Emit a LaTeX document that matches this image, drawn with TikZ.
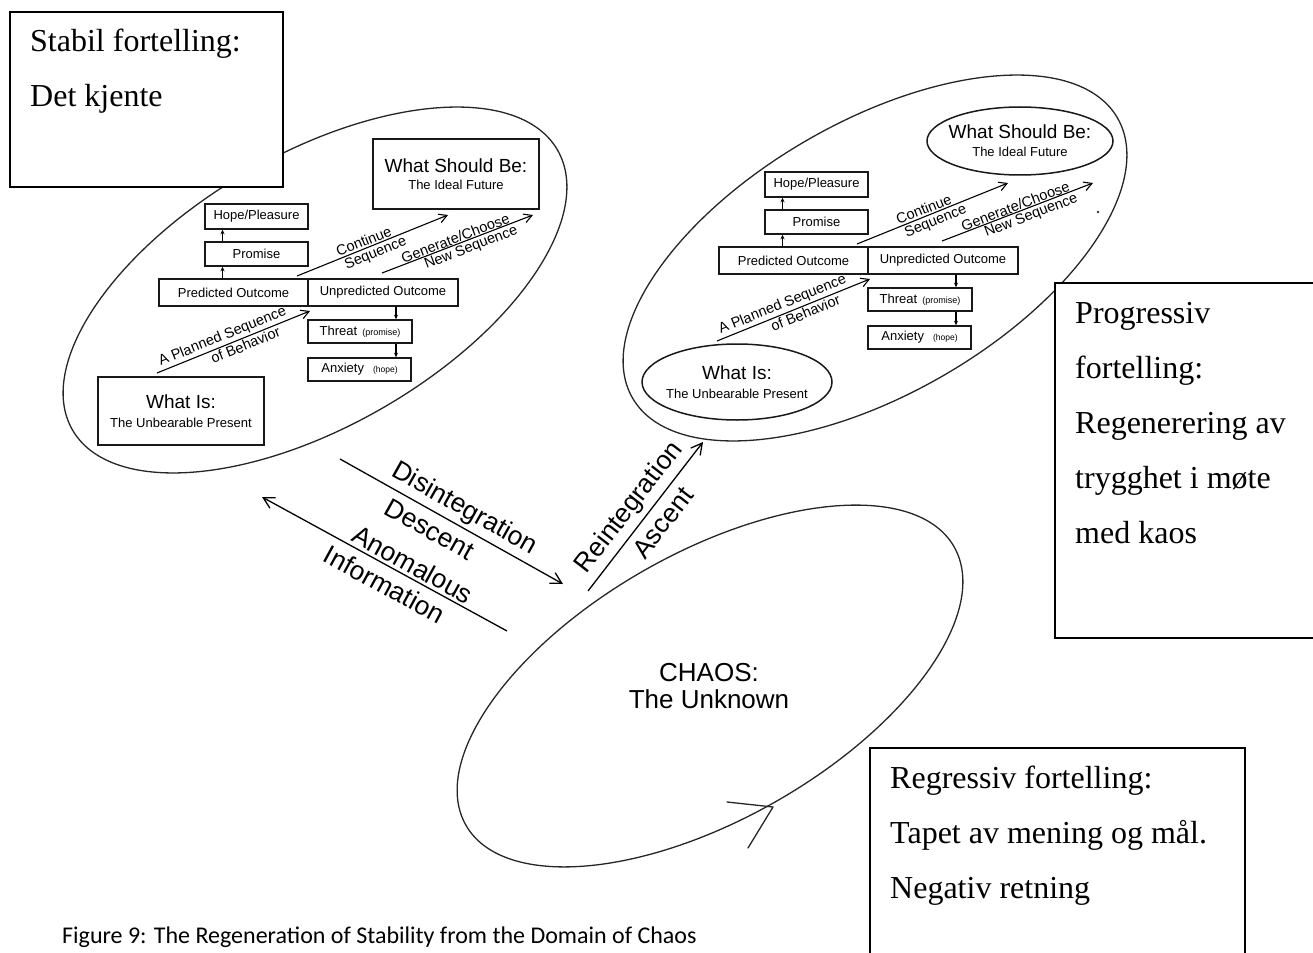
\documentclass[tikz,border=0pt]{standalone}
\usepackage{fontspec}
\setmainfont{Liberation Serif}
\newfontfamily\dsf{Liberation Sans}
\newfontfamily\capfont{Carlito}
\usetikzlibrary{arrows.meta,calc}
\newcommand\fs[2]{\fontsize{#1}{#2}\selectfont}
\tikzset{
  ell/.style={line width=1.3pt, draw=black!85},
  bx/.style={draw=black!90, line width=1.5pt, inner sep=0pt, font=\dsf\fs{13}{15}},
  sar/.style={-{Stealth[length=4.5pt,width=4pt]}, line width=1.1pt},
  bar/.style={-{Straight Barb[length=8pt,width=9pt]}, line width=1.1pt},
  lbl/.style={font=\dsf\fs{14.5}{16}, sloped, inner sep=1.5pt},
  big/.style={line width=1.3pt},
  biglbl/.style={font=\dsf\fs{26.5}{28}, sloped},
  ablbl/.style={biglbl, above, inner sep=4pt},
  bllbl/.style={biglbl, below, inner sep=7.5pt},
  tbox/.style={draw=black, line width=1.1pt, fill=white},
  ttxt/.style={anchor=base west, font=\fs{32}{38}, inner sep=0pt},
}
\newcommand\commondia{%
  \begin{scope}[shift={(315,-290)}, rotate=30]
    \draw[ell] (0,0) ellipse [x radius=280, y radius=136];
  \end{scope}
  \node[bx, minimum width=103, minimum height=25] (hope) at (256.5,-216.5) {Hope/Pleasure};
  \node[bx, minimum width=103, minimum height=24] (promise) at (256.5,-254) {Promise};
  \node[bx, minimum width=149, minimum height=27] (pred) at (233.5,-292.5) {Predicted Outcome};
  \node[bx, minimum width=150, minimum height=27] (unpred) at (383,-292.5) {Unpredicted Outcome};
  \node[bx, minimum width=104, minimum height=23] (threat) at (360,-331.5) {Threat\hspace{5pt}{\fs{9}{10}(promise)}};
  \node[bx, minimum width=103, minimum height=23] (anx) at (359.5,-369.5) {Anxiety\hspace{9pt}{\fs{8.5}{10}(hope)}};
  \coordinate (xl) at (222.5,0);
  \coordinate (xr) at (396,0);
  \draw[sar] (xl |- promise.north) -- (xl |- hope.south);
  \draw[sar] (xl |- pred.north) -- (xl |- promise.south);
  \draw[sar] (xr |- unpred.south) -- (xr |- threat.north);
  \draw[sar] (xr |- threat.south) -- (xr |- anx.north);
  \coordinate (plA) at (157,-373);
  \coordinate (plB) at (310,-311);
  \coordinate (coA) at (297,-276);
  \coordinate (coB) at (448,-215);
  \coordinate (geA) at (382,-273);
  \coordinate (geB) at (533,-215);
  \draw[bar] (plA) -- node[lbl, above, pos=0.45] (plT) {A Planned Sequence}
                      node[lbl, below, pos=0.56] (plU) {of Behavior} (plB);
  \draw[bar] (coA) -- node[lbl, above, pos=0.46] (coT) {Continue}
                      node[lbl, below, pos=0.5] (coU) {Sequence} (coB);
  \draw[bar] (geA) -- node[lbl, above, pos=0.5, inner sep=0.3pt] (geT) {Generate/Choose}
                      node[lbl, below, pos=0.57] (geU) {New Sequence} (geB);
}
\begin{document}
\begin{tikzpicture}[x=1pt,y=1pt]
\useasboundingbox (0,0) rectangle (1313,-952);
\fill[white] (0,0) rectangle (1313,-952);

% ---------- left (stable) diagram ----------
\begin{scope}[name prefix=L-]
  \commondia
  \node[bx, minimum width=166, minimum height=68, align=center, font=\dsf\fs{13}{19}] (is) at (181,-411)
     {{\fs{19}{21}What Is:}\\The Unbearable Present};
  \node[bx, minimum width=166, minimum height=70, align=center, font=\dsf\fs{13}{17}] (should) at (456,-174)
     {{\fs{19}{21}What Should Be:}\\The Ideal Future};
\end{scope}

% ---------- right (progressive) diagram ----------
\begin{scope}[shift={(560,32)}, name prefix=R-]
  \commondia
  \node[align=center, inner sep=0pt, font=\dsf\fs{13}{19}] (is) at (177,-414)
     {{\fs{19}{21}What Is:}\\The Unbearable Present};
  \draw[bx] (is.center) ellipse [x radius=95, y radius=38];
  \node[align=center, inner sep=0pt, font=\dsf\fs{13}{18}] (should) at (460,-173)
     {{\fs{19}{21}What Should Be:}\\The Ideal Future};
  \draw[bx] (should.center) ellipse [x radius=93, y radius=34];
\end{scope}
\fill[black!80] (1098,-212) circle (1.4);

% ---------- chaos ----------
\begin{scope}[shift={(710,-686)}, rotate=29.7]
  \draw[ell] (0,0) ellipse [x radius=281, y radius=133];
\end{scope}
\coordinate (chTip) at (773,-807);
\draw[ell, line cap=round, line join=round] (727,-802) -- (chTip) -- (748,-848);
\node[align=center, font=\dsf\fs{26}{27}, inner sep=0pt] (chaos) at (709,-686) {CHAOS:\\The Unknown};

\coordinate (dsA) at (340,-459);
\coordinate (dsB) at (563,-584);
\draw[big, -{Straight Barb[length=11pt,width=12pt]}] (dsA) --
   node[ablbl, pos=0.52] (dsT) {Disintegration}
   node[bllbl, pos=0.44] (dsU) {Descent} (dsB);
\coordinate (anA) at (262,-497);
\coordinate (anB) at (507,-631);
\draw[big, {Straight Barb[length=11pt,width=12pt]}-] (anA) --
   node[ablbl, pos=0.59, inner sep=3pt] (anT) {Anomalous}
   node[bllbl, pos=0.535] (anU) {Information} (anB);
\coordinate (reA) at (588,-591);
\coordinate (reB) at (703,-442);
\draw[big, -{Straight Barb[length=11pt,width=12pt]}] (reA) --
   node[ablbl, pos=0.485, inner sep=5pt] (reT) {Reintegration}
   node[bllbl, pos=0.53] (reU) {Ascent} (reB);

% ---------- text boxes ----------
\draw[tbox] (10,-12) rectangle (283,-187);
\node[ttxt] (b1a) at (30,-52) {Stabil fortelling:};
\node[ttxt] (b1b) at (30,-107) {Det kjente};

\draw[tbox] (1055,-283) rectangle (1330,-638);
\node[ttxt] (b2a) at (1075,-323) {Progressiv};
\node[ttxt] (b2b) at (1075,-378) {fortelling:};
\node[ttxt] (b2c) at (1075,-433) {Regenerering av};
\node[ttxt] (b2d) at (1075,-488) {trygghet i møte};
\node[ttxt] (b2e) at (1075,-543) {med kaos};

\draw[tbox] (870,-748) rectangle (1245,-970);
\node[ttxt] (b3a) at (890,-788) {Regressiv fortelling:};
\node[ttxt] (b3b) at (890,-843) {Tapet av mening og mål.};
\node[ttxt] (b3c) at (890,-898) {Negativ retning};

% ---------- caption ----------
\node[anchor=base west, font=\capfont\fs{24}{26}, inner sep=0pt] (cap) at (62,-943)
  {Figure 9: The Regeneration of Stability from the Domain of Chaos};
\end{tikzpicture}
\end{document}
